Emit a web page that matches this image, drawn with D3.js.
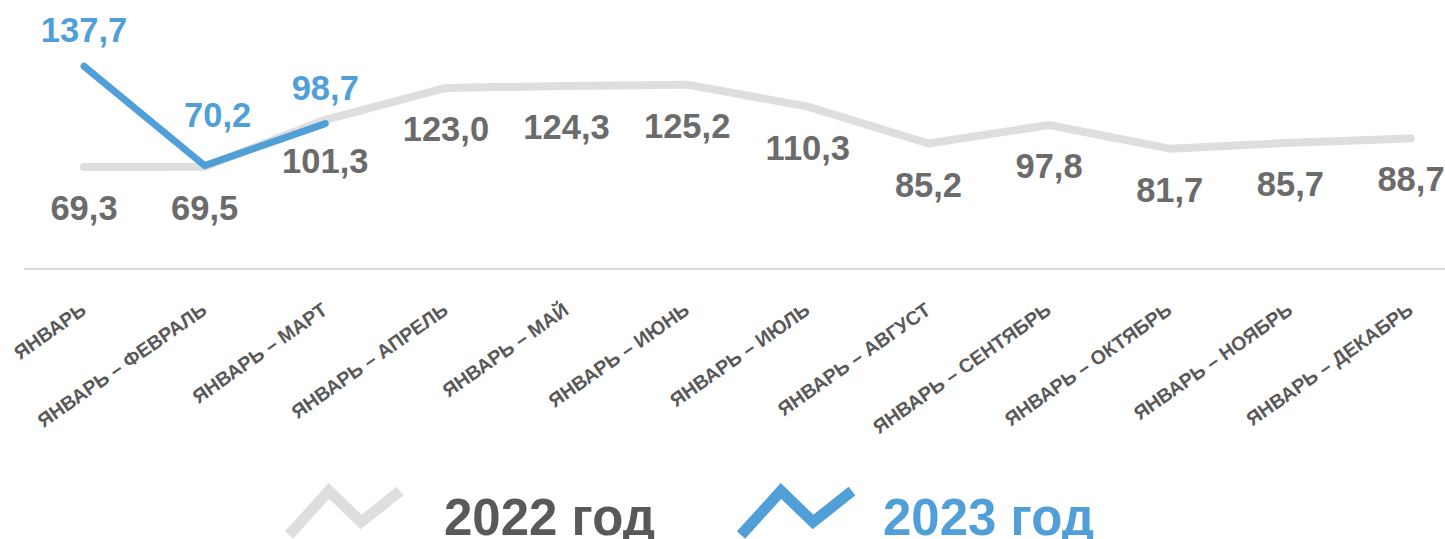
<!DOCTYPE html>
<html>
<head>
<meta charset="utf-8">
<script src="https://cdn.jsdelivr.net/npm/d3@7"></script>
<style>
  body { margin: 0; background: #fff; }
  svg { display: block; font-family: "Liberation Sans", Arial, sans-serif; }
</style>
</head>
<body>
<div id="chart-area"></div>
<script>
const WIDTH = 1445
const HEIGHT = 539

// periods (cumulative from January)
const categories = ["ЯНВАРЬ", "ЯНВАРЬ – ФЕВРАЛЬ", "ЯНВАРЬ – МАРТ", "ЯНВАРЬ – АПРЕЛЬ",
  "ЯНВАРЬ – МАЙ", "ЯНВАРЬ – ИЮНЬ", "ЯНВАРЬ – ИЮЛЬ", "ЯНВАРЬ – АВГУСТ",
  "ЯНВАРЬ – СЕНТЯБРЬ", "ЯНВАРЬ – ОКТЯБРЬ", "ЯНВАРЬ – НОЯБРЬ", "ЯНВАРЬ – ДЕКАБРЬ"]
const values2022 = [69.3, 69.5, 101.3, 123.0, 124.3, 125.2, 110.3, 85.2, 97.8, 81.7, 85.7, 88.7]
const values2023 = [137.7, 70.2, 98.7]
const seriesNames = ["2022 год", "2023 год"]

const GRAY = "#dedede"
const BLUE = "#519fd8"
const LABEL_GRAY = "#6b6b6b"
const DARK = "#595959"

const svg = d3.select("#chart-area").append("svg")
  .attr("width", WIDTH)
  .attr("height", HEIGHT)

const x = d3.scalePoint()
  .domain(categories)
  .range([84, 1411])

const y = d3.scaleLinear()
  .domain([0, 140])
  .range([269, 62.85])

const fmt = v => d3.format(".1f")(v).replace(".", ",")

// baseline
svg.append("line")
  .attr("x1", 24).attr("x2", WIDTH)
  .attr("y1", y(0)).attr("y2", y(0))
  .attr("stroke", "#d9d9d9")
  .attr("stroke-width", 2)

// category labels
const xAxis = svg.append("g")
  .attr("transform", `translate(0, ${y(0)})`)
  .call(d3.axisBottom(x).tickSize(0).tickPadding(0))
xAxis.select(".domain").remove()
xAxis.selectAll("text")
  .attr("y", 0)
  .attr("dy", 0)
  .attr("text-anchor", "end")
  .attr("fill", DARK)
  .attr("font-size", "19.5px")
  .attr("font-weight", "bold")
  .attr("font-family", "Liberation Sans, Arial, sans-serif")
  .attr("transform", "translate(3, 44) rotate(-35)")

const line = d3.line()
  .x((d, i) => x(categories[i]))
  .y(d => y(d))

svg.append("path")
  .datum(values2022)
  .attr("d", line)
  .attr("fill", "none")
  .attr("stroke", GRAY)
  .attr("stroke-width", 8)
  .attr("stroke-linecap", "round")
  .attr("stroke-linejoin", "round")

svg.append("path")
  .datum(values2023)
  .attr("d", line)
  .attr("fill", "none")
  .attr("stroke", BLUE)
  .attr("stroke-width", 7)
  .attr("stroke-linecap", "round")
  .attr("stroke-linejoin", "round")

// value labels 2022 (below the line)
svg.selectAll(".lbl22").data(values2022).enter().append("text")
  .attr("class", "lbl22")
  .attr("x", (d, i) => x(categories[i]))
  .attr("y", d => y(d) + 53)
  .attr("text-anchor", "middle")
  .attr("fill", LABEL_GRAY)
  .attr("font-size", "34.5px")
  .attr("font-weight", "bold")
  .text(fmt)

// value labels 2023 (above the line)
svg.selectAll(".lbl23").data(values2023).enter().append("text")
  .attr("class", "lbl23")
  .attr("x", (d, i) => x(categories[i]) + (i === 1 ? 13 : 0))
  .attr("y", (d, i) => y(d) - (i === 1 ? 39 : 24))
  .attr("text-anchor", "middle")
  .attr("fill", BLUE)
  .attr("font-size", "34.5px")
  .attr("font-weight", "bold")
  .text(fmt)

// legend
const legend = svg.append("g")
const legendItems = [
  {name: seriesNames[0], color: GRAY, text: DARK, x: 289, tx: 444},
  {name: seriesNames[1], color: BLUE, text: BLUE, x: 741, tx: 883}
]
legendItems.forEach(item => {
  legend.append("path")
    .attr("transform", `translate(${item.x}, 0)`)
    .attr("d", "M0,535 L40,491 L72,522 L111,491")
    .attr("fill", "none")
    .attr("stroke", item.color)
    .attr("stroke-width", 11)
  legend.append("text")
    .attr("x", item.tx)
    .attr("y", 535)
    .attr("fill", item.text)
    .attr("font-size", "51px")
    .attr("font-weight", "bold")
    .text(item.name)
})
</script>
</body>
</html>
